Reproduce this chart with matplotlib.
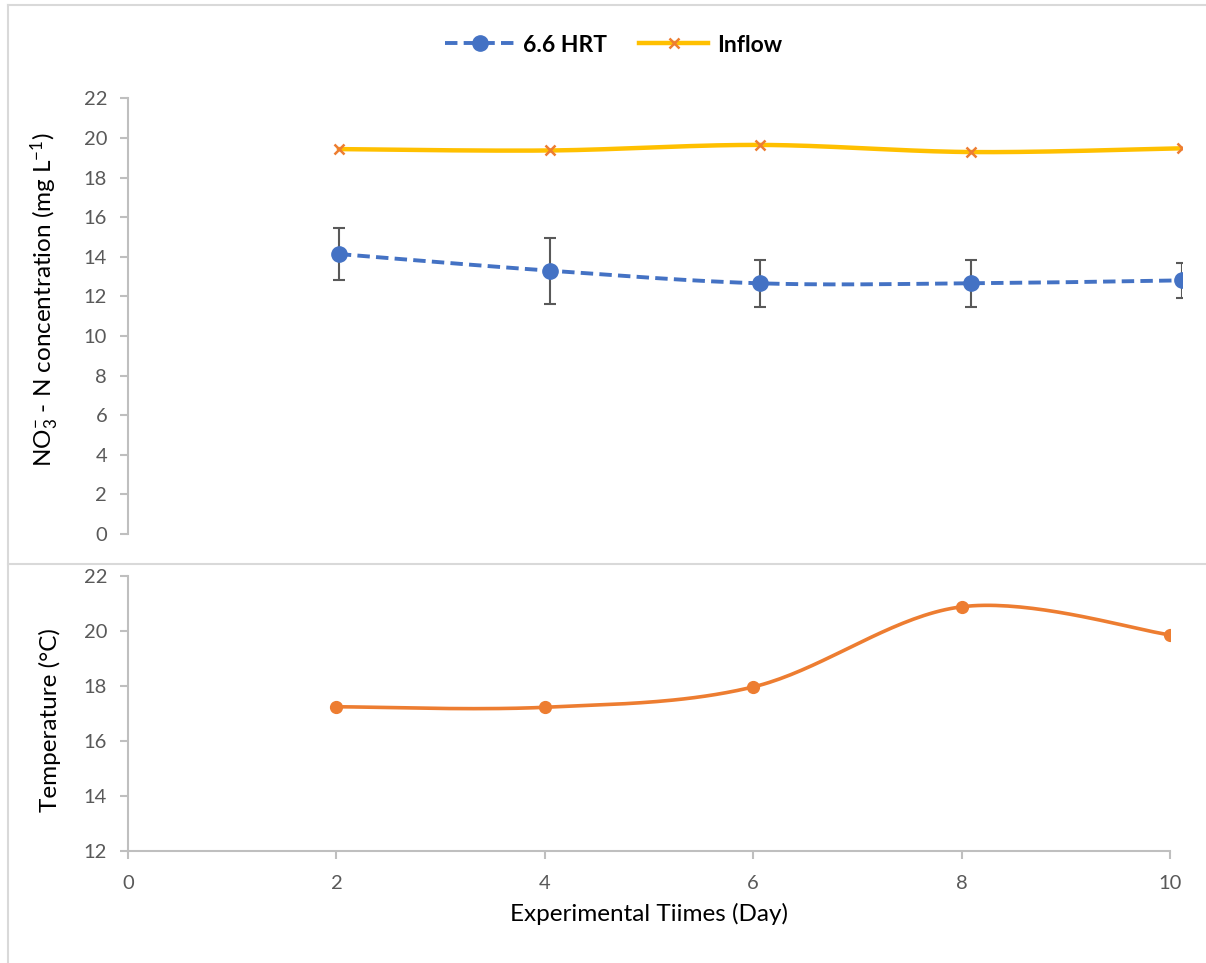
import numpy as np
import matplotlib
matplotlib.use("Agg")
import matplotlib.pyplot as plt
from matplotlib.lines import Line2D

plt.rcParams['font.family'] = ['Lato', 'DejaVu Sans']
plt.rcParams['mathtext.fontset'] = 'custom'
plt.rcParams['mathtext.rm'] = 'Lato'
plt.rcParams['mathtext.it'] = 'Lato:italic'

# ---- data ----
days = [2, 4, 6, 8, 10]
hrt_66 = [14.14, 13.30, 12.66, 12.66, 12.81]
hrt_66_err = [1.29, 1.67, 1.18, 1.18, 0.87]
inflow = [19.44, 19.37, 19.65, 19.29, 19.48]
temperature = [17.24, 17.22, 17.96, 20.87, 19.85]

W, H = 1206, 963
GRAY_TXT = '#595959'
SPINE = '#bfbfbf'
BLUE = '#4472C4'
ORANGE = '#ED7D31'
YELLOW = '#FFC000'
LABEL_FS = 17.5
TICK_FS = 14.5


def smooth(xs, ys, n=40):
    """Excel-style Bezier smoothing through the given points."""
    P = np.column_stack([xs, ys]).astype(float)
    out = [P[0]]
    t = np.linspace(0, 1, n)[1:, None]
    for i in range(len(P) - 1):
        p0 = P[i - 1] if i > 0 else P[i]
        p1, p2 = P[i], P[i + 1]
        p3 = P[i + 2] if i + 2 < len(P) else P[i + 1]
        c1 = p1 + (p2 - p0) / 6.0
        c2 = p2 - (p3 - p1) / 6.0
        seg = ((1 - t) ** 3) * p1 + 3 * ((1 - t) ** 2) * t * c1 + 3 * (1 - t) * t ** 2 * c2 + t ** 3 * p2
        out.extend(seg)
    out = np.array(out)
    return out[:, 0], out[:, 1]


fig = plt.figure(figsize=(W / 100, H / 100), dpi=100)

# chart borders (two stacked charts)
for (x0, y0, x1, y1) in [(8, 5, W, 5), (8, 5, 8, H), (8, 564, W, 564)]:
    fig.add_artist(Line2D([x0 / W, x1 / W], [1 - y0 / H, 1 - y1 / H],
                          color='#d9d9d9', lw=1.5, transform=fig.transFigure))

# ---- top panel ----
ax1 = fig.add_axes([128 / W, 1 - 534 / H, (1182 - 128) / W, (534 - 98.4) / H])
ax1.set_xlim(0, 10)
ax1.set_ylim(0, 22)
ax1.set_yticks(range(0, 23, 2))
for s in ['top', 'right', 'bottom']:
    ax1.spines[s].set_visible(False)
ax1.spines['left'].set_color(SPINE)
ax1.spines['left'].set_linewidth(1.5)
ax1.tick_params(axis='y', colors=SPINE, labelcolor=GRAY_TXT, length=6, width=1.5,
                labelsize=TICK_FS, pad=9)
ax1.set_xticks([])

xs, ys = smooth(days, inflow)
ax1.plot(xs, ys, color=YELLOW, lw=3.2, solid_capstyle='round', zorder=3)
ax1.plot(days, inflow, ls='none', marker='x', ms=7, mew=1.8, color=ORANGE, zorder=4)

ax1.errorbar(days, hrt_66, yerr=hrt_66_err, fmt='none', ecolor='#595959',
             elinewidth=1.5, capsize=4.5, capthick=1.5, zorder=2)
xs, ys = smooth(days, hrt_66)
ax1.plot(xs, ys, color=BLUE, lw=2.8, ls=(0, (3.2, 1.6)), zorder=3)
ax1.plot(days, hrt_66, ls='none', marker='o', ms=11, color=BLUE, zorder=4)

ax1.set_ylabel(r'NO$_3^{-}$ - N concentration (mg L$^{-1}$)', fontsize=LABEL_FS, color='black')
ax1.yaxis.set_label_coords((61 - 128) / 1054, 0.539)

# ---- bottom panel ----
ax2 = fig.add_axes([128 / W, 1 - 851 / H, (1170 - 128) / W, (851 - 575.7) / H])
ax2.set_xlim(0, 10)
ax2.set_ylim(12, 22)
ax2.set_yticks(range(12, 23, 2))
ax2.set_xticks(range(0, 11, 2))
for s in ['top', 'right']:
    ax2.spines[s].set_visible(False)
for s in ['left', 'bottom']:
    ax2.spines[s].set_color(SPINE)
    ax2.spines[s].set_linewidth(1.5)
ax2.tick_params(axis='both', colors=SPINE, labelcolor=GRAY_TXT, length=6, width=1.5,
                labelsize=TICK_FS)
ax2.tick_params(axis='y', pad=9)
ax2.tick_params(axis='x', pad=11)

xs, ys = smooth(days, temperature)
ax2.plot(xs, ys, color=ORANGE, lw=2.6, zorder=3)
ax2.plot(days, temperature, ls='none', marker='o', ms=8.5, color=ORANGE, zorder=4)

ax2.set_ylabel('Temperature (°C)', fontsize=LABEL_FS, color='black')
ax2.yaxis.set_label_coords((61 - 128) / 1042, 0.476)
ax2.set_xlabel('Experimental Tiimes (Day)', fontsize=LABEL_FS, color='black', labelpad=8)

# ---- legend ----
handles = [
    Line2D([], [], color=BLUE, lw=2.8, ls=(0, (3.2, 1.6)), marker='o', ms=11),
    Line2D([], [], color=YELLOW, lw=3.2, marker='x', ms=7, mew=1.8,
           markeredgecolor=ORANGE, markerfacecolor=ORANGE),
]
leg = fig.legend(handles, ['6.6 HRT', 'Inflow'], loc='center', bbox_to_anchor=(614 / W, 1 - 45 / H),
                 ncol=2, frameon=False, prop={'weight': 'bold', 'size': 16.5},
                 handlelength=3.0, handletextpad=0.4, columnspacing=1.4, numpoints=1)

fig.savefig('out.png', dpi=100, facecolor='white')
